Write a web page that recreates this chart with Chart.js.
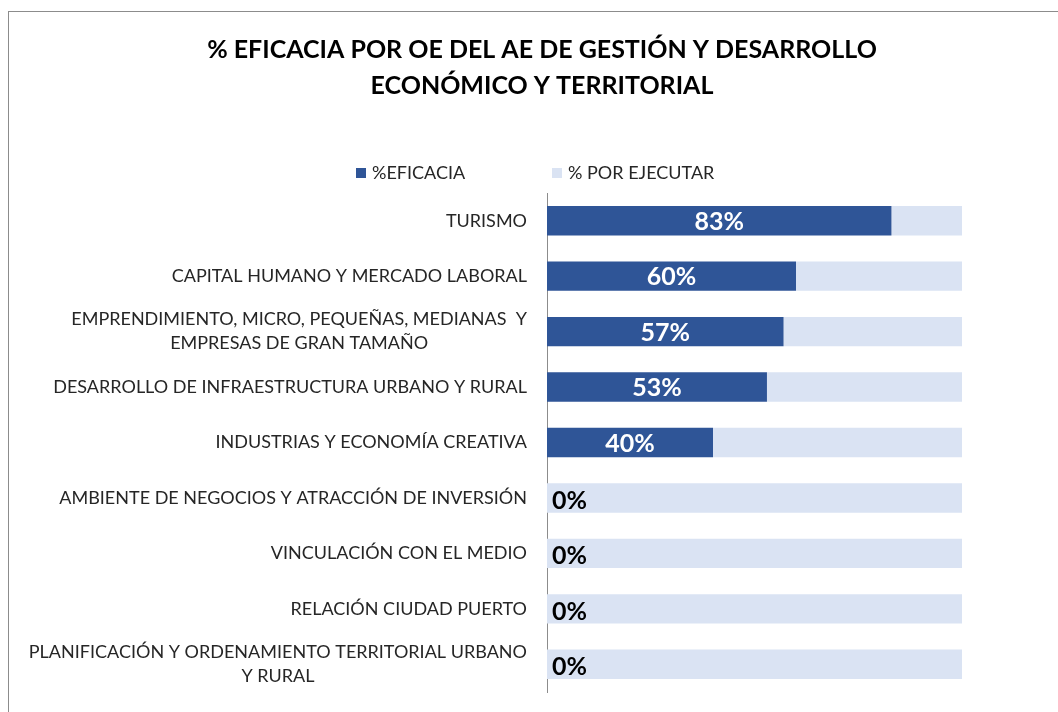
<!DOCTYPE html>
<html>
<head>
<meta charset="utf-8">
<script src="https://cdn.jsdelivr.net/npm/chart.js@4.4.1/dist/chart.umd.min.js"></script>
<style>
  html, body { margin: 0; padding: 0; background: #fff; overflow: hidden; }
  #frame { position: absolute; left: 8px; top: 11px; width: 1200px; height: 900px; border: 1px solid #8c8c8c; }
  #wrap { position: absolute; left: 0; top: 0; width: 1058px; height: 712px; }
</style>
</head>
<body>
<div id="frame"></div>
<div id="wrap"><canvas id="chart" width="1058" height="712"></canvas></div>
<script>
const titleLines = ['% EFICACIA POR OE DEL AE DE GESTIÓN Y DESARROLLO', 'ECONÓMICO Y TERRITORIAL'];
const categories = [
    'TURISMO',
    'CAPITAL HUMANO Y MERCADO LABORAL',
    ['EMPRENDIMIENTO, MICRO, PEQUEÑAS, MEDIANAS  Y', 'EMPRESAS DE GRAN TAMAÑO'],
    'DESARROLLO DE INFRAESTRUCTURA URBANO Y RURAL',
    'INDUSTRIAS Y ECONOMÍA CREATIVA',
    'AMBIENTE DE NEGOCIOS Y ATRACCIÓN DE INVERSIÓN',
    'VINCULACIÓN CON EL MEDIO',
    'RELACIÓN CIUDAD PUERTO',
    ['PLANIFICACIÓN Y ORDENAMIENTO TERRITORIAL URBANO', 'Y RURAL']
];
const eficacia = [83, 60, 57, 53, 40, 0, 0, 0, 0];
const porEjecutar = [17, 40, 43, 47, 60, 100, 100, 100, 100];
const seriesNames = ['%EFICACIA', '% POR EJECUTAR'];

const FONT = 'Lato, "Open Sans", sans-serif';

// title drawn by hand, centred on the whole frame
const chartTitle = {
    id: 'chartTitle',
    afterDraw(chart) {
        const ctx = chart.ctx;
        ctx.save();
        ctx.font = 'bold 25px ' + FONT;
        ctx.fillStyle = '#000';
        ctx.textAlign = 'center';
        ctx.textBaseline = 'middle';
        titleLines.forEach((t, i) => ctx.fillText(t, 542, 50 + i * 36));
        ctx.restore();
    }
};

// category labels: single lines right aligned, wrapped lines centred on each other
const categoryLabels = {
    id: 'categoryLabels',
    afterDraw(chart) {
        const ctx = chart.ctx;
        const y = chart.scales.y;
        const right = chart.chartArea.left - 20;
        ctx.save();
        ctx.font = '18px ' + FONT;
        ctx.fillStyle = '#262626';
        ctx.textBaseline = 'middle';
        categories.forEach((lab, i) => {
            const cy = y.getPixelForValue(i);
            if (Array.isArray(lab)) {
                const w = Math.max(...lab.map(t => ctx.measureText(t).width));
                const cx = right - w / 2;
                ctx.textAlign = 'center';
                lab.forEach((t, j) => {
                    ctx.fillText(t, cx, cy + (j - (lab.length - 1) / 2) * 24);
                });
            } else {
                ctx.textAlign = 'right';
                ctx.fillText(lab, right, cy);
            }
        });
        ctx.restore();
    }
};

// value labels on the %EFICACIA bars
const valueLabels = {
    id: 'valueLabels',
    afterDatasetsDraw(chart) {
        const ctx = chart.ctx;
        const meta = chart.getDatasetMeta(0);
        ctx.save();
        ctx.font = 'bold 25px ' + FONT;
        ctx.textBaseline = 'middle';
        meta.data.forEach((bar, i) => {
            const v = eficacia[i];
            if (v > 0) {
                ctx.fillStyle = '#ffffff';
                ctx.textAlign = 'center';
                ctx.fillText(v + '%', (bar.base + bar.x) / 2, bar.y + 1);
            } else {
                ctx.fillStyle = '#000000';
                ctx.textAlign = 'left';
                ctx.fillText(v + '%', bar.x + 5, bar.y + 3);
            }
        });
        ctx.restore();
    }
};

// legend drawn by hand so the spacing matches
const customLegend = {
    id: 'customLegend',
    afterDraw(chart) {
        const ctx = chart.ctx;
        const xs = [356, 552];
        const ly = 173;
        ctx.save();
        ctx.font = '18px ' + FONT;
        ctx.textBaseline = 'middle';
        ctx.textAlign = 'left';
        chart.data.datasets.forEach((ds, i) => {
            ctx.fillStyle = ds.backgroundColor;
            ctx.fillRect(xs[i], ly - 5, 10, 10);
            ctx.fillStyle = '#262626';
            ctx.fillText(ds.label, xs[i] + 16, ly);
        });
        ctx.restore();
    }
};

new Chart(document.getElementById('chart').getContext('2d'), {
    type: 'bar',
    data: {
        labels: categories,
        datasets: [{
            label: seriesNames[0],
            data: eficacia,
            backgroundColor: '#2F5597',
            barPercentage: 0.53,
            categoryPercentage: 1
        }, {
            label: seriesNames[1],
            data: porEjecutar,
            backgroundColor: '#DAE3F3',
            barPercentage: 0.53,
            categoryPercentage: 1
        }]
    },
    options: {
        indexAxis: 'y',
        responsive: false,
        animation: false,
        layout: { padding: { top: 193, left: 547, right: 96, bottom: 20 } },
        plugins: {
            legend: { display: false },
            tooltip: { enabled: false },
            title: { display: false }
        },
        scales: {
            x: { stacked: true, min: 0, max: 100, display: false },
            y: {
                stacked: true,
                grid: { display: false },
                border: { display: true, color: '#8c8c8c', width: 1 },
                ticks: { display: false },
                afterFit(s) { s.width = 0; }
            }
        }
    },
    plugins: [chartTitle, categoryLabels, valueLabels, customLegend]
});
</script>
</body>
</html>
